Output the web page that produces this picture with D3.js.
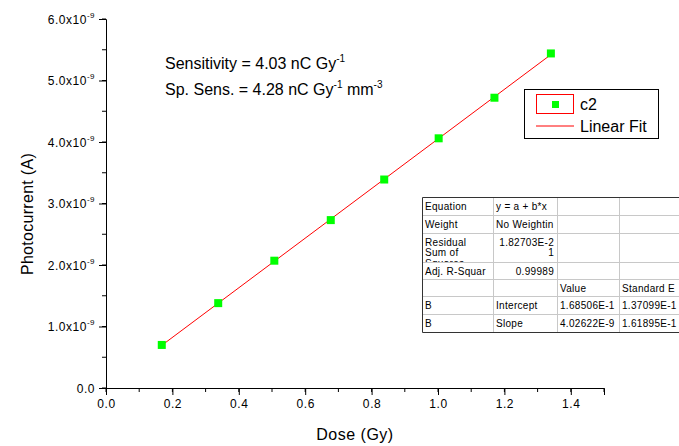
<!DOCTYPE html>
<html>
<head>
<meta charset="utf-8">
<script src="https://cdn.jsdelivr.net/npm/d3@7"></script>
<style>
body { margin: 0; background: #fff; }
svg { display: block; font-family: "Liberation Sans", Arial, sans-serif; }
</style>
</head>
<body>
<svg id="chart" width="679" height="446"></svg>
<script>

// measured data (Dose in Gy, photocurrent in A)
var dose = [0.168, 0.338, 0.507, 0.677, 0.838, 1.002, 1.170, 1.340];
var current = [0.70e-9, 1.38e-9, 2.07e-9, 2.73e-9, 3.39e-9, 4.06e-9, 4.72e-9, 5.44e-9];

var xTicks = [0.0, 0.2, 0.4, 0.6, 0.8, 1.0, 1.2, 1.4];
var yTicks = [0, 1e-9, 2e-9, 3e-9, 4e-9, 5e-9, 6e-9];

var legendLabels = ["c2", "Linear Fit"];
var noteLines = [
	[["Sensitivity = 4.03 nC Gy", 0], ["-1", 1]],
	[["Sp. Sens. = 4.28 nC Gy", 0], ["-1", 1], [" mm", 0], ["-3", 1]]
];

// fit results table (Origin style)
var tableRows = [
	[["Equation"], ["y = a + b*x"], [""], [""]],
	[["Weight"], ["No Weightin"], [""], [""]],
	[["Residual", "Sum of", "Squares"], ["1.82703E-2", "1"], [""], [""]],
	[["Adj. R-Squar"], ["0.99989"], [""], [""]],
	[[""], [""], ["Value"], ["Standard E"]],
	[["B"], ["Intercept"], ["1.68506E-1"], ["1.37099E-1"]],
	[["B"], ["Slope"], ["4.02622E-9"], ["1.61895E-1"]]
];
var rightAligned = { "2-1": true, "3-1": true };

var svg = d3.select("#chart");

var x = d3.scaleLinear().domain([0, 1.5]).range([106, 604]);
var y = d3.scaleLinear().domain([0, 6e-9]).range([388, 19]);

// minor ticks
var xMinor = d3.range(0, 16).map(function(i) { return i / 10; });
var yMinor = d3.range(0, 13).map(function(i) { return i * 0.5e-9; });

svg.append("g").selectAll("line").data(xMinor).enter().append("line") //
.attr("x1", function(d) { return x(d); }) //
.attr("x2", function(d) { return x(d); }) //
.attr("y1", 388).attr("y2", 392) //
.attr("stroke", "black");

svg.append("g").selectAll("line").data(yMinor).enter().append("line") //
.attr("y1", function(d) { return y(d); }) //
.attr("y2", function(d) { return y(d); }) //
.attr("x1", 106).attr("x2", 102) //
.attr("stroke", "black");

// x axis
var xAxis = svg.append("g").attr("transform", "translate(0,388)") //
.call(d3.axisBottom(x).tickValues(xTicks).tickSizeOuter(0).tickSize(7) //
.tickFormat(d3.format(".1f")));
xAxis.selectAll("text").attr("font-size", 12).attr("font-family", "Liberation Sans, Arial") //
.attr("fill", "#000").attr("y", 11).attr("letter-spacing", 0.6);

// y axis
var yAxis = svg.append("g").attr("transform", "translate(106,0)") //
.call(d3.axisLeft(y).tickValues(yTicks).tickSizeOuter(0).tickSize(7));
yAxis.selectAll("text").each(function(d) {
	var t = d3.select(this).text("").attr("font-size", 12) //
	.attr("font-family", "Liberation Sans, Arial").attr("fill", "#000") //
	.attr("x", -11).attr("dy", "0.36em").attr("letter-spacing", 0.5);
	if (d === 0) {
		t.text("0.0");
	} else {
		t.append("tspan").text((d * 1e9).toFixed(1) + "x10");
		t.append("tspan").attr("font-size", 8).attr("dy", -6).text("-9");
	}
});
svg.selectAll(".domain").attr("stroke", "black");

// axis titles
svg.append("text").attr("x", 355).attr("y", 440).attr("text-anchor", "middle") //
.attr("font-size", 16).attr("letter-spacing", 0.5).text("Dose (Gy)");

svg.append("text").attr("transform", "translate(33,214) rotate(-90)") //
.attr("text-anchor", "middle").attr("font-size", 16).attr("letter-spacing", 0.3) //
.text("Photocurrent (A)");

// linear fit (least squares)
var mx = d3.mean(dose), my = d3.mean(current);
var sxy = d3.sum(dose, function(d, i) { return (d - mx) * (current[i] - my); });
var sxx = d3.sum(dose, function(d) { return (d - mx) * (d - mx); });
var slope = sxy / sxx, icpt = my - slope * mx;
var fitX = d3.extent(dose);

svg.append("line") //
.attr("x1", x(fitX[0])).attr("y1", y(icpt + slope * fitX[0])) //
.attr("x2", x(fitX[1])).attr("y2", y(icpt + slope * fitX[1])) //
.attr("stroke", "#ff0000").attr("stroke-width", 1);

svg.append("g").selectAll("rect").data(dose).enter().append("rect") //
.attr("x", function(d) { return x(d) - 4; }) //
.attr("y", function(d, i) { return y(current[i]) - 4; }) //
.attr("width", 8).attr("height", 8) //
.attr("fill", "#00ff00");

// annotation
noteLines.forEach(function(parts, li) {
	var t = svg.append("text").attr("x", 165).attr("y", 62 + li * 26) //
	.attr("font-size", 16);
	parts.forEach(function(p) {
		if (p[1]) {
			t.append("tspan").attr("font-size", 10).attr("dy", -7).text(p[0]);
		} else {
			t.append("tspan").attr("dy", t.selectAll("tspan").size() ? 7 : 0).text(p[0]);
		}
	});
});

// legend
var lg = svg.append("g");
lg.append("rect").attr("x", 524.5).attr("y", 89.5).attr("width", 134).attr("height", 49) //
.attr("fill", "#fff").attr("stroke", "black");
lg.append("rect").attr("x", 536.5).attr("y", 94.5).attr("width", 37).attr("height", 19) //
.attr("fill", "none").attr("stroke", "#ff0000");
lg.append("rect").attr("x", 552).attr("y", 101).attr("width", 7).attr("height", 7) //
.attr("fill", "#00ff00");
lg.append("line").attr("x1", 536).attr("x2", 574).attr("y1", 126).attr("y2", 126) //
.attr("stroke", "#ff0000");
lg.selectAll("text").data(legendLabels).enter().append("text") //
.attr("x", 580).attr("y", function(d, i) { return 110 + i * 22; }) //
.attr("font-size", 16).text(function(d) { return d; });

// results table
var colX = [422, 493, 557, 619, 700];
var rowY = [197, 215, 233, 262, 279, 296, 314, 332];
var tb = svg.append("g").attr("font-size", 10).attr("font-family", "Liberation Sans, Arial");
tb.append("rect").attr("x", colX[0]).attr("y", rowY[0]) //
.attr("width", colX[4] - colX[0]).attr("height", rowY[7] - rowY[0]).attr("fill", "#fff");

var defs = svg.append("defs");
tableRows.forEach(function(row, r) {
	row.forEach(function(cell, c) {
		var id = "cell" + r + "_" + c;
		defs.append("clipPath").attr("id", id).append("rect") //
		.attr("x", colX[c]).attr("y", rowY[r]) //
		.attr("width", colX[c + 1] - colX[c] - 1).attr("height", rowY[r + 1] - rowY[r]);
		var right = rightAligned[r + "-" + c];
		cell.forEach(function(s, k) {
			tb.append("text").attr("clip-path", "url(#" + id + ")") //
			.attr("x", right ? colX[c + 1] - 3 : colX[c] + 3) //
			.attr("y", rowY[r] + 12.5 + k * 10.5) //
			.attr("text-anchor", right ? "end" : "start") //
			.attr("letter-spacing", 0.3).text(s);
		});
	});
});

// grid lines of the table
tb.selectAll("line.h").data(rowY.slice(1, 7)).enter().append("line") //
.attr("x1", colX[0]).attr("x2", 679).attr("y1", function(d) { return d + 0.5; }) //
.attr("y2", function(d) { return d + 0.5; }).attr("stroke", "#c8c8c8");
tb.selectAll("line.v").data(colX.slice(1, 4)).enter().append("line") //
.attr("y1", rowY[0]).attr("y2", rowY[7]).attr("x1", function(d) { return d + 0.5; }) //
.attr("x2", function(d) { return d + 0.5; }).attr("stroke", "#c8c8c8");
tb.append("path").attr("d", "M679," + (rowY[0] + 0.5) + "H" + (colX[0] + 0.5) + "V" + (rowY[7] + 0.5) + "H679") //
.attr("fill", "none").attr("stroke", "#333");

</script>
</body>
</html>
